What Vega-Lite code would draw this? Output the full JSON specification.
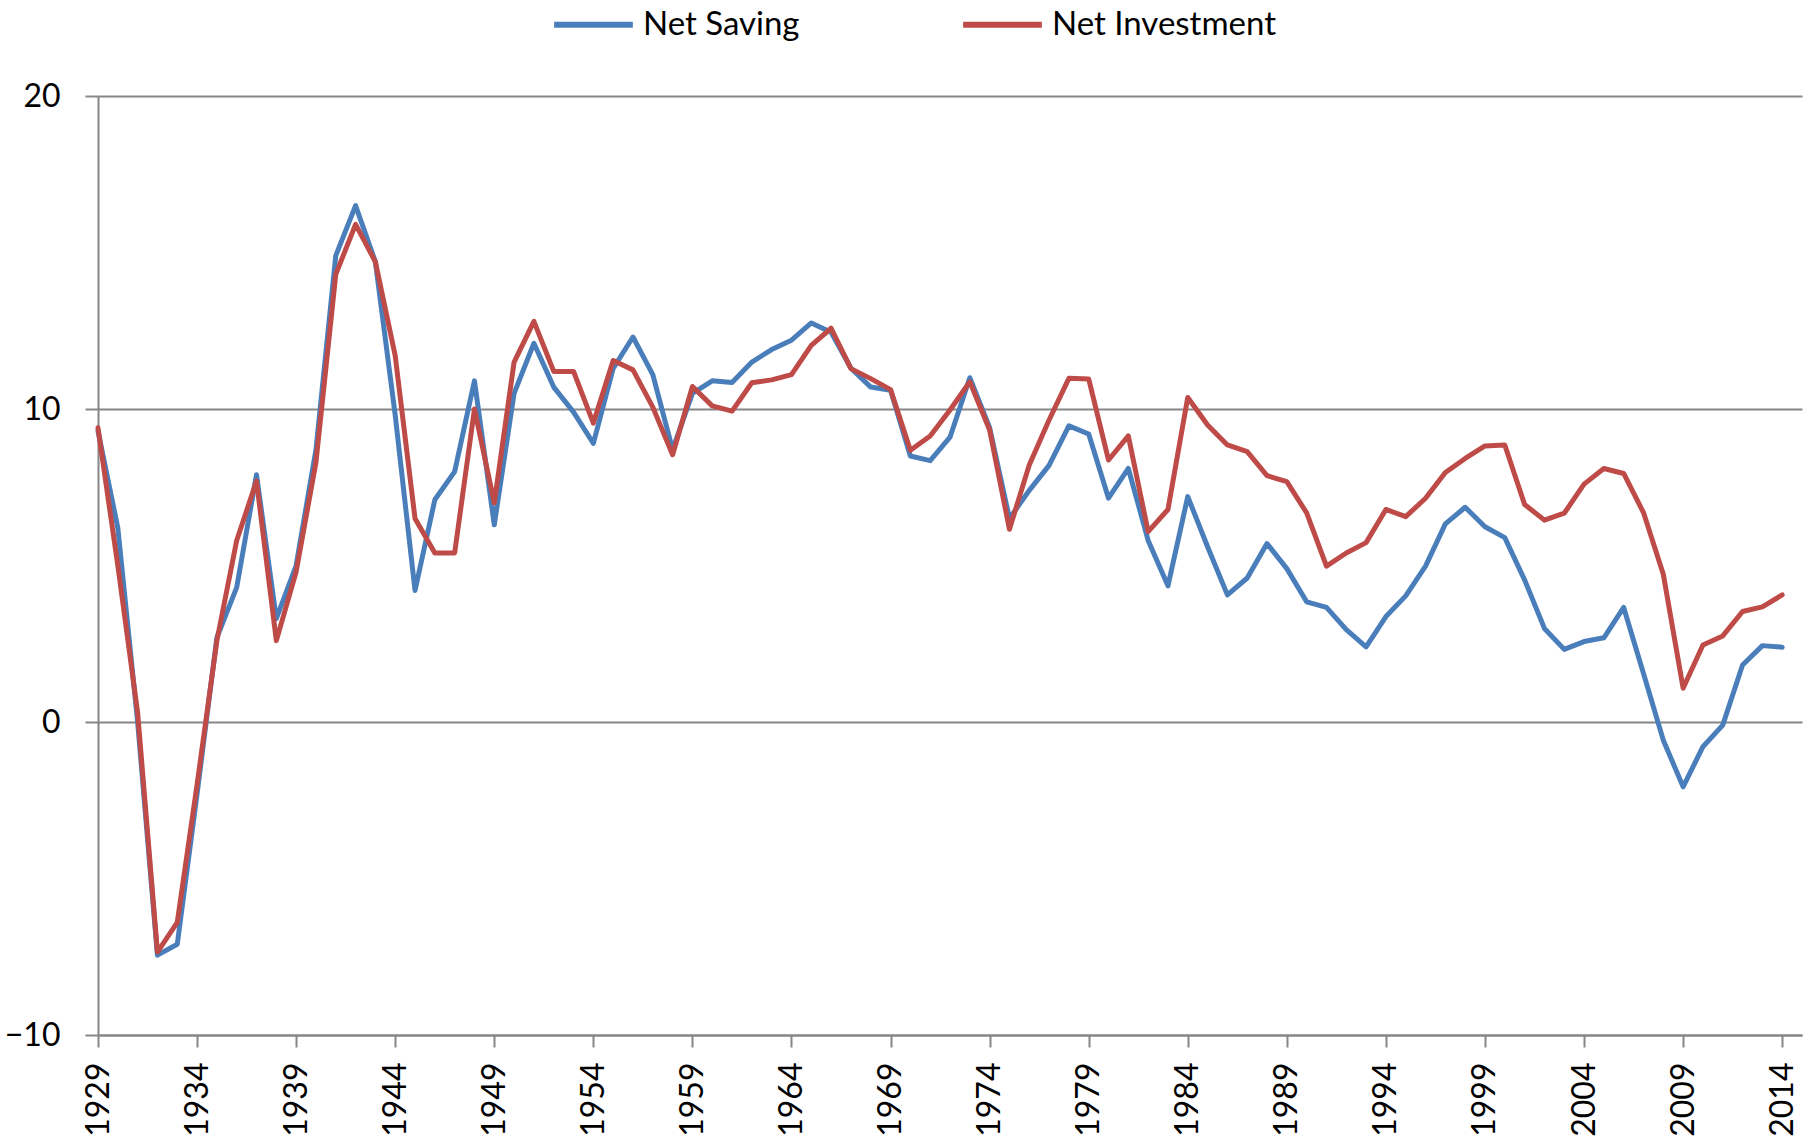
{
  "$schema": "https://vega.github.io/schema/vega-lite/v6.json",
  "width": 1704,
  "height": 939,
  "autosize": {"type": "none"},
  "padding": {"left": 98, "top": 96, "right": 12, "bottom": 106},
  "background": "white",
  "config": {
    "view": {"stroke": null},
    "font": "Lato",
    "axis": {"labelFont": "Lato", "labelColor": "#000000", "labelFontSize": 32, "titleFontSize": 32}
  },
  "data": {
    "values": [
      {"year": 1929, "series": "Net Saving", "value": 9.3},
      {"year": 1930, "series": "Net Saving", "value": 6.2},
      {"year": 1931, "series": "Net Saving", "value": 0.0},
      {"year": 1932, "series": "Net Saving", "value": -7.45},
      {"year": 1933, "series": "Net Saving", "value": -7.1},
      {"year": 1934, "series": "Net Saving", "value": -2.3},
      {"year": 1935, "series": "Net Saving", "value": 2.7},
      {"year": 1936, "series": "Net Saving", "value": 4.3},
      {"year": 1937, "series": "Net Saving", "value": 7.9},
      {"year": 1938, "series": "Net Saving", "value": 3.3},
      {"year": 1939, "series": "Net Saving", "value": 5.0},
      {"year": 1940, "series": "Net Saving", "value": 8.7},
      {"year": 1941, "series": "Net Saving", "value": 14.9},
      {"year": 1942, "series": "Net Saving", "value": 16.5},
      {"year": 1943, "series": "Net Saving", "value": 14.7},
      {"year": 1944, "series": "Net Saving", "value": 9.8},
      {"year": 1945, "series": "Net Saving", "value": 4.2},
      {"year": 1946, "series": "Net Saving", "value": 7.1},
      {"year": 1947, "series": "Net Saving", "value": 8.0},
      {"year": 1948, "series": "Net Saving", "value": 10.9},
      {"year": 1949, "series": "Net Saving", "value": 6.3},
      {"year": 1950, "series": "Net Saving", "value": 10.5},
      {"year": 1951, "series": "Net Saving", "value": 12.1},
      {"year": 1952, "series": "Net Saving", "value": 10.7},
      {"year": 1953, "series": "Net Saving", "value": 9.9},
      {"year": 1954, "series": "Net Saving", "value": 8.9},
      {"year": 1955, "series": "Net Saving", "value": 11.3},
      {"year": 1956, "series": "Net Saving", "value": 12.3},
      {"year": 1957, "series": "Net Saving", "value": 11.1},
      {"year": 1958, "series": "Net Saving", "value": 8.7},
      {"year": 1959, "series": "Net Saving", "value": 10.5},
      {"year": 1960, "series": "Net Saving", "value": 10.9},
      {"year": 1961, "series": "Net Saving", "value": 10.85},
      {"year": 1962, "series": "Net Saving", "value": 11.5},
      {"year": 1963, "series": "Net Saving", "value": 11.9},
      {"year": 1964, "series": "Net Saving", "value": 12.2},
      {"year": 1965, "series": "Net Saving", "value": 12.75},
      {"year": 1966, "series": "Net Saving", "value": 12.45},
      {"year": 1967, "series": "Net Saving", "value": 11.3},
      {"year": 1968, "series": "Net Saving", "value": 10.7},
      {"year": 1969, "series": "Net Saving", "value": 10.6},
      {"year": 1970, "series": "Net Saving", "value": 8.5},
      {"year": 1971, "series": "Net Saving", "value": 8.35},
      {"year": 1972, "series": "Net Saving", "value": 9.1},
      {"year": 1973, "series": "Net Saving", "value": 11.0},
      {"year": 1974, "series": "Net Saving", "value": 9.4},
      {"year": 1975, "series": "Net Saving", "value": 6.5},
      {"year": 1976, "series": "Net Saving", "value": 7.4},
      {"year": 1977, "series": "Net Saving", "value": 8.2},
      {"year": 1978, "series": "Net Saving", "value": 9.46},
      {"year": 1979, "series": "Net Saving", "value": 9.2},
      {"year": 1980, "series": "Net Saving", "value": 7.15},
      {"year": 1981, "series": "Net Saving", "value": 8.1},
      {"year": 1982, "series": "Net Saving", "value": 5.8},
      {"year": 1983, "series": "Net Saving", "value": 4.35},
      {"year": 1984, "series": "Net Saving", "value": 7.2},
      {"year": 1985, "series": "Net Saving", "value": 5.6},
      {"year": 1986, "series": "Net Saving", "value": 4.06},
      {"year": 1987, "series": "Net Saving", "value": 4.6},
      {"year": 1988, "series": "Net Saving", "value": 5.7},
      {"year": 1989, "series": "Net Saving", "value": 4.9},
      {"year": 1990, "series": "Net Saving", "value": 3.84},
      {"year": 1991, "series": "Net Saving", "value": 3.66},
      {"year": 1992, "series": "Net Saving", "value": 2.95},
      {"year": 1993, "series": "Net Saving", "value": 2.4},
      {"year": 1994, "series": "Net Saving", "value": 3.37},
      {"year": 1995, "series": "Net Saving", "value": 4.03},
      {"year": 1996, "series": "Net Saving", "value": 4.98},
      {"year": 1997, "series": "Net Saving", "value": 6.33},
      {"year": 1998, "series": "Net Saving", "value": 6.86},
      {"year": 1999, "series": "Net Saving", "value": 6.24},
      {"year": 2000, "series": "Net Saving", "value": 5.89},
      {"year": 2001, "series": "Net Saving", "value": 4.54},
      {"year": 2002, "series": "Net Saving", "value": 2.99},
      {"year": 2003, "series": "Net Saving", "value": 2.32},
      {"year": 2004, "series": "Net Saving", "value": 2.57},
      {"year": 2005, "series": "Net Saving", "value": 2.69},
      {"year": 2006, "series": "Net Saving", "value": 3.66},
      {"year": 2007, "series": "Net Saving", "value": 1.55},
      {"year": 2008, "series": "Net Saving", "value": -0.58},
      {"year": 2009, "series": "Net Saving", "value": -2.07},
      {"year": 2010, "series": "Net Saving", "value": -0.79},
      {"year": 2011, "series": "Net Saving", "value": -0.1},
      {"year": 2012, "series": "Net Saving", "value": 1.82},
      {"year": 2013, "series": "Net Saving", "value": 2.44},
      {"year": 2014, "series": "Net Saving", "value": 2.39},
      {"year": 1929, "series": "Net Investment", "value": 9.4},
      {"year": 1930, "series": "Net Investment", "value": 5.0},
      {"year": 1931, "series": "Net Investment", "value": 0.3},
      {"year": 1932, "series": "Net Investment", "value": -7.35},
      {"year": 1933, "series": "Net Investment", "value": -6.4},
      {"year": 1934, "series": "Net Investment", "value": -2.0},
      {"year": 1935, "series": "Net Investment", "value": 2.6},
      {"year": 1936, "series": "Net Investment", "value": 5.8},
      {"year": 1937, "series": "Net Investment", "value": 7.7},
      {"year": 1938, "series": "Net Investment", "value": 2.6},
      {"year": 1939, "series": "Net Investment", "value": 4.8},
      {"year": 1940, "series": "Net Investment", "value": 8.3},
      {"year": 1941, "series": "Net Investment", "value": 14.3},
      {"year": 1942, "series": "Net Investment", "value": 15.9},
      {"year": 1943, "series": "Net Investment", "value": 14.7},
      {"year": 1944, "series": "Net Investment", "value": 11.7},
      {"year": 1945, "series": "Net Investment", "value": 6.5},
      {"year": 1946, "series": "Net Investment", "value": 5.4},
      {"year": 1947, "series": "Net Investment", "value": 5.4},
      {"year": 1948, "series": "Net Investment", "value": 10.0},
      {"year": 1949, "series": "Net Investment", "value": 7.0},
      {"year": 1950, "series": "Net Investment", "value": 11.5},
      {"year": 1951, "series": "Net Investment", "value": 12.8},
      {"year": 1952, "series": "Net Investment", "value": 11.2},
      {"year": 1953, "series": "Net Investment", "value": 11.2},
      {"year": 1954, "series": "Net Investment", "value": 9.55},
      {"year": 1955, "series": "Net Investment", "value": 11.55},
      {"year": 1956, "series": "Net Investment", "value": 11.25},
      {"year": 1957, "series": "Net Investment", "value": 10.06},
      {"year": 1958, "series": "Net Investment", "value": 8.54},
      {"year": 1959, "series": "Net Investment", "value": 10.72},
      {"year": 1960, "series": "Net Investment", "value": 10.1},
      {"year": 1961, "series": "Net Investment", "value": 9.93},
      {"year": 1962, "series": "Net Investment", "value": 10.84},
      {"year": 1963, "series": "Net Investment", "value": 10.93},
      {"year": 1964, "series": "Net Investment", "value": 11.1},
      {"year": 1965, "series": "Net Investment", "value": 12.03},
      {"year": 1966, "series": "Net Investment", "value": 12.58},
      {"year": 1967, "series": "Net Investment", "value": 11.29},
      {"year": 1968, "series": "Net Investment", "value": 10.97},
      {"year": 1969, "series": "Net Investment", "value": 10.62},
      {"year": 1970, "series": "Net Investment", "value": 8.68},
      {"year": 1971, "series": "Net Investment", "value": 9.14},
      {"year": 1972, "series": "Net Investment", "value": 9.97},
      {"year": 1973, "series": "Net Investment", "value": 10.87},
      {"year": 1974, "series": "Net Investment", "value": 9.33},
      {"year": 1975, "series": "Net Investment", "value": 6.16},
      {"year": 1976, "series": "Net Investment", "value": 8.21},
      {"year": 1977, "series": "Net Investment", "value": 9.65},
      {"year": 1978, "series": "Net Investment", "value": 10.98},
      {"year": 1979, "series": "Net Investment", "value": 10.96},
      {"year": 1980, "series": "Net Investment", "value": 8.37},
      {"year": 1981, "series": "Net Investment", "value": 9.14},
      {"year": 1982, "series": "Net Investment", "value": 6.08},
      {"year": 1983, "series": "Net Investment", "value": 6.79},
      {"year": 1984, "series": "Net Investment", "value": 10.37},
      {"year": 1985, "series": "Net Investment", "value": 9.49},
      {"year": 1986, "series": "Net Investment", "value": 8.85},
      {"year": 1987, "series": "Net Investment", "value": 8.64},
      {"year": 1988, "series": "Net Investment", "value": 7.87},
      {"year": 1989, "series": "Net Investment", "value": 7.68},
      {"year": 1990, "series": "Net Investment", "value": 6.68},
      {"year": 1991, "series": "Net Investment", "value": 4.98},
      {"year": 1992, "series": "Net Investment", "value": 5.4},
      {"year": 1993, "series": "Net Investment", "value": 5.73},
      {"year": 1994, "series": "Net Investment", "value": 6.79},
      {"year": 1995, "series": "Net Investment", "value": 6.56},
      {"year": 1996, "series": "Net Investment", "value": 7.15},
      {"year": 1997, "series": "Net Investment", "value": 7.97},
      {"year": 1998, "series": "Net Investment", "value": 8.42},
      {"year": 1999, "series": "Net Investment", "value": 8.82},
      {"year": 2000, "series": "Net Investment", "value": 8.85},
      {"year": 2001, "series": "Net Investment", "value": 6.95},
      {"year": 2002, "series": "Net Investment", "value": 6.45},
      {"year": 2003, "series": "Net Investment", "value": 6.67},
      {"year": 2004, "series": "Net Investment", "value": 7.6},
      {"year": 2005, "series": "Net Investment", "value": 8.1},
      {"year": 2006, "series": "Net Investment", "value": 7.94},
      {"year": 2007, "series": "Net Investment", "value": 6.69},
      {"year": 2008, "series": "Net Investment", "value": 4.72},
      {"year": 2009, "series": "Net Investment", "value": 1.08},
      {"year": 2010, "series": "Net Investment", "value": 2.46},
      {"year": 2011, "series": "Net Investment", "value": 2.75},
      {"year": 2012, "series": "Net Investment", "value": 3.53},
      {"year": 2013, "series": "Net Investment", "value": 3.68},
      {"year": 2014, "series": "Net Investment", "value": 4.06}
    ]
  },
  "mark": {"type": "line", "strokeWidth": 5, "strokeJoin": "round", "strokeCap": "round"},
  "encoding": {
    "x": {
      "field": "year",
      "type": "quantitative",
      "scale": {"domain": [1929, 2015], "nice": false, "zero": false},
      "axis": {
        "title": null,
        "values": [1929, 1934, 1939, 1944, 1949, 1954, 1959, 1964, 1969, 1974, 1979, 1984, 1989, 1994, 1999, 2004, 2009, 2014],
        "format": "d",
        "labelAngle": -90,
        "labelPadding": 15,
        "labelFontSize": 32,
        "tickSize": 12,
        "tickWidth": 2,
        "tickColor": "#868686",
        "domainColor": "#868686",
        "domainWidth": 2,
        "grid": false,
        "labelOverlap": false,
        "labelFlush": false
      }
    },
    "y": {
      "field": "value",
      "type": "quantitative",
      "scale": {"domain": [-10, 20], "nice": false, "zero": false},
      "axis": {
        "title": null,
        "values": [-10, 0, 10, 20],
        "labelPadding": 25,
        "labelFontSize": 32,
        "tickSize": 13,
        "tickWidth": 2,
        "tickColor": "#868686",
        "domainColor": "#868686",
        "domainWidth": 2,
        "grid": true,
        "gridColor": "#868686",
        "gridWidth": 2,
        "gridOpacity": 1
      }
    },
    "color": {
      "field": "series",
      "type": "nominal",
      "scale": {"domain": ["Net Saving", "Net Investment"], "range": ["#4A7EBB", "#BE4B48"]},
      "legend": {
        "title": null,
        "orient": "none",
        "legendX": 453,
        "legendY": -114,
        "direction": "horizontal",
        "symbolType": "stroke",
        "symbolSize": 6200,
        "symbolStrokeWidth": 6,
        "labelFont": "Lato",
        "labelFontSize": 33,
        "labelColor": "#000000",
        "labelOffset": 7,
        "labelLimit": 500,
        "columnPadding": 151
      }
    }
  }
}
